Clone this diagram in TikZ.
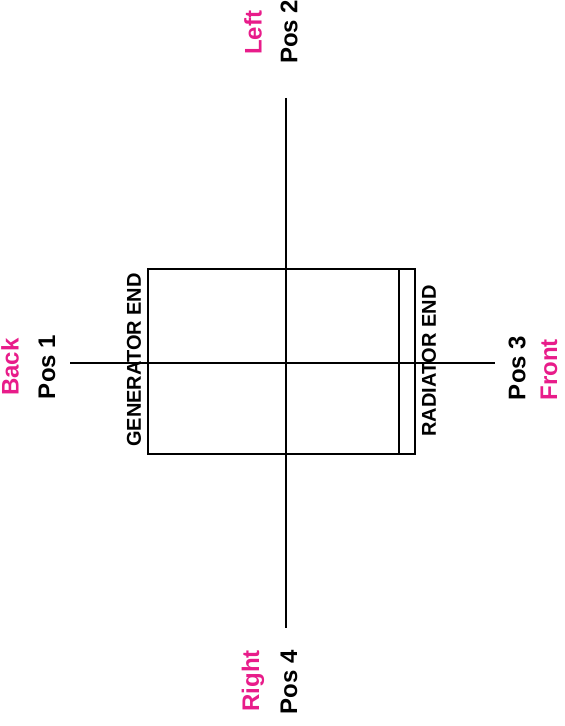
\documentclass[tikz,border=0pt]{standalone}
\usepackage{fontspec}
\setmainfont{Liberation Sans}
\usepackage{xcolor}
\usepackage{tikz}
\usetikzlibrary{calc}
\definecolor{pinkish}{RGB}{232,28,138}
\tikzset{
  side/.style={text=pinkish, font=\bfseries\fontsize{12}{14}\selectfont,
               rotate=90, inner sep=0pt},
  posn/.style={text=black, font=\bfseries\fontsize{12}{14}\selectfont,
               rotate=90, inner sep=0pt},
  endtext/.style={text=black, font=\bfseries\fontsize{10}{12}\selectfont,
                  rotate=90, inner sep=0pt},
  axis/.style={line width=0.6pt},
  unit/.style={draw, line width=0.9pt, minimum width=133.5pt, minimum height=92.5pt,
               inner sep=0pt}
}

\begin{document}
\begin{tikzpicture}[x=0.5pt, y=0.5pt]
  \useasboundingbox (0,0) rectangle (565,726);
  % generator set outline
  \node[unit] (gen) at (281.5,364.5) {};
  \draw[axis] ($(gen.north east)+(-17,0)$) coordinate (radtop)
           -- ($(gen.south east)+(-17,0)$) coordinate (radbot);
  % measuring axes
  \coordinate (ax2) at (286,628);
  \coordinate (ax4) at (286,98);
  \coordinate (ax1) at (70,363);
  \coordinate (ax3) at (495,363);
  \draw[axis] (ax2) -- (ax4);
  \draw[axis] (ax1) -- (ax3);
  % labels
  \node[endtext] (genend) at (134,366) {GENERATOR END};
  \node[endtext] (radend) at (429,365) {RADIATOR END};
  \node[side] (left)  at (253,693) {Left};
  \node[posn] (pos2)  at (289,694) {Pos 2};
  \node[side] (back)  at (10,359)  {Back};
  \node[posn] (pos1)  at (47,359)  {Pos 1};
  \node[posn] (pos3)  at (517,358) {Pos 3};
  \node[side] (front) at (549,356) {Front};
  \node[side] (right) at (253,45)  {Right};
  \node[posn] (pos4)  at (289,44)  {Pos 4};
\end{tikzpicture}
\end{document}
